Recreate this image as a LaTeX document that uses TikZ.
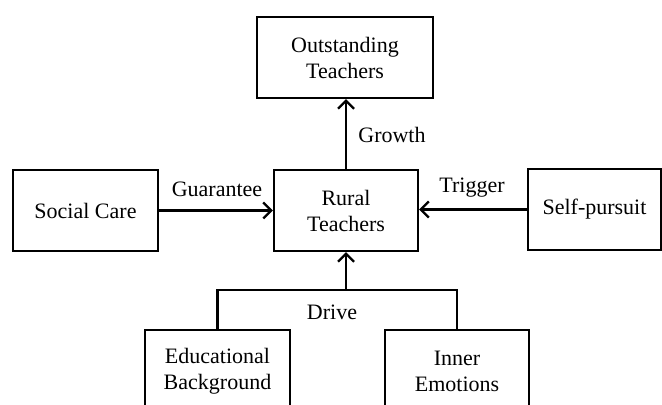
\documentclass[tikz,border=0pt]{standalone}
\usepackage{fontspec}
\setmainfont{Liberation Serif}
\usetikzlibrary{arrows.meta}
\begin{document}
\begin{tikzpicture}[x=0.5pt,y=-0.5pt,
  box/.style={draw, line width=1.2pt, align=center, inner sep=0pt,
    font=\fontsize{11}{13}\selectfont},
  lbl/.style={font=\fontsize{11}{13}\selectfont, inner sep=1pt},
  link/.style={line width=1.2pt},
  arr/.style={link, -{Straight Barb[length=4pt,width=8pt,line width=1.1pt]}}]
\useasboundingbox (0,0) rectangle (662,405);
\clip (0,0) rectangle (662,405);
% boxes
\node[box, minimum width=88pt, minimum height=40.5pt] (out) at (345,57.5) {Outstanding\\Teachers};
\node[box, minimum width=72.5pt, minimum height=40.5pt] (soc) at (85.5,210.5) {Social Care};
\node[box, minimum width=72pt, minimum height=40.5pt] (rur) at (346,210.5) {Rural\\Teachers};
\node[box, minimum width=66.5pt, minimum height=40.5pt] (self) at (594.5,209.5) {Self-pursuit};
\node[box, minimum width=72.5pt, minimum height=41pt] (edu) at (217.5,371) {Educational\\Background};
\node[box, minimum width=72pt, minimum height=41pt] (inn) at (457,371) {Inner\\Emotions};
% connectors
\draw[arr] (rur.north) -- (rur.north |- out.south);
\draw[arr] (soc.east) -- (soc.east -| rur.west);
\draw[arr] (self.west) -- (self.west -| rur.east);
\coordinate (bar) at (346,290);
\draw[link] (edu.north) |- (bar) -| (inn.north);
\draw[arr] (bar) -- (rur.south);
% labels
\node[lbl] (lg) at (392,135) {Growth};
\node[lbl] (lq) at (217,189) {Guarantee};
\node[lbl] (lt) at (472,188) {Trigger};
\node[lbl] (ld) at (332,312) {Drive};
\end{tikzpicture}
\end{document}
